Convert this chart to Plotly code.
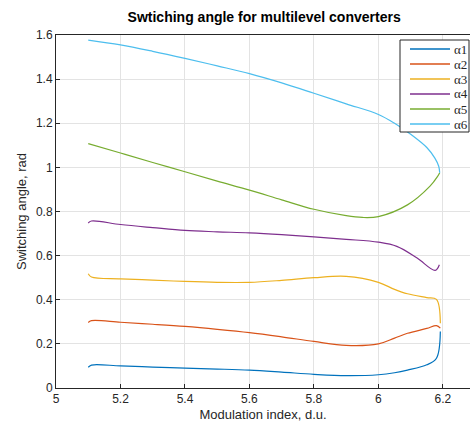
import plotly.graph_objects as go

x1 = [5.10, 5.11, 5.2, 5.3, 5.4, 5.5, 5.6, 5.7, 5.8, 5.9, 6.0, 6.05, 6.09, 6.15, 6.18, 6.192]
a1 = [0.094, 0.104, 0.100, 0.095, 0.090, 0.086, 0.081, 0.072, 0.062, 0.056, 0.060, 0.069, 0.081, 0.105, 0.135, 0.256]
a2 = [0.297, 0.305, 0.298, 0.289, 0.279, 0.266, 0.251, 0.232, 0.211, 0.193, 0.200, 0.226, 0.248, 0.270, 0.283, 0.271]
a3 = [0.518, 0.503, 0.495, 0.489, 0.483, 0.479, 0.479, 0.488, 0.500, 0.506, 0.479, 0.447, 0.427, 0.410, 0.402, 0.294]
x4 = [5.10, 5.11, 5.2, 5.3, 5.4, 5.5, 5.6, 5.7, 5.8, 5.9, 6.0, 6.057, 6.12, 6.176, 6.189]
a4 = [0.748, 0.757, 0.741, 0.727, 0.714, 0.708, 0.703, 0.695, 0.685, 0.674, 0.661, 0.642, 0.589, 0.533, 0.559]
x5 = [5.10, 5.2, 5.3, 5.4, 5.5, 5.6, 5.7, 5.8, 5.9, 5.95, 6.0, 6.09, 6.16, 6.183, 6.19]
a5 = [1.108, 1.065, 1.022, 0.980, 0.938, 0.897, 0.853, 0.810, 0.781, 0.773, 0.777, 0.830, 0.915, 0.958, 0.976]
x6 = [5.10, 5.2, 5.3, 5.4, 5.5, 5.6, 5.7, 5.8, 5.9, 6.0, 6.05, 6.1, 6.15, 6.175, 6.187, 6.19]
a6 = [1.577, 1.555, 1.526, 1.494, 1.460, 1.425, 1.383, 1.336, 1.288, 1.240, 1.200, 1.150, 1.090, 1.042, 1.005, 0.976]

names = ["α1", "α2", "α3", "α4", "α5", "α6"]
colors = ["#0072BD", "#D95319", "#EDB120", "#7E2F8E", "#77AC30", "#4DBEEE"]
series = [(x1, a1), (x1, a2), (x1, a3), (x4, a4), (x5, a5), (x6, a6)]

W, H = 470, 432
ML, MR, MT, MB = 56, 0, 35, 44
PW, PH = W - ML - MR, H - MT - MB

def px(xp):
    return (xp - ML) / PW

def py(yp):
    return (H - MB - yp) / PH

fig = go.Figure()
for (xs, ys), n, c in zip(series, names, colors):
    fig.add_trace(go.Scatter(x=xs, y=ys, mode="lines", name=n, showlegend=False,
                             line=dict(color=c, width=1.2, shape="spline", smoothing=1.0)))

# legend box drawn as shapes/annotations
shapes = [dict(type="rect", xref="paper", yref="paper",
               x0=px(400), x1=px(469), y0=py(132), y1=py(40),
               line=dict(color="#262626", width=1), fillcolor="white", layer="above")]
annotations = []
for i, (n, c) in enumerate(zip(names, colors)):
    yy = 49 + 15 * i
    shapes.append(dict(type="line", xref="paper", yref="paper",
                       x0=px(410), x1=px(450), y0=py(yy), y1=py(yy),
                       line=dict(color=c, width=1.5), layer="above"))
    annotations.append(dict(xref="paper", yref="paper", x=px(452), y=py(yy),
                            xanchor="left", yanchor="middle", showarrow=False, text=n,
                            font=dict(family="Liberation Serif", size=13, color="#262626")))

axis_common = dict(showgrid=True, gridcolor="#e3e3e3", gridwidth=1, zeroline=False,
                   showline=True, linecolor="#262626", linewidth=1, mirror=True,
                   ticks="inside", ticklen=4, tickcolor="#262626",
                   tickfont=dict(family="Liberation Sans, Arial", size=12, color="#262626"))

fig.update_layout(
    width=W, height=H,
    paper_bgcolor="white", plot_bgcolor="white",
    margin=dict(l=ML, r=MR, t=MT, b=MB),
    title=dict(text="<b>Swtiching angle for multilevel converters</b>", x=0.562, xanchor="center",
               y=0.972, yanchor="top",
               font=dict(family="Liberation Sans, Arial", size=14, color="#000000")),
    xaxis=dict(range=[5, 6.284], tickvals=[5, 5.2, 5.4, 5.6, 5.8, 6, 6.2],
               ticktext=["5", "5.2", "5.4", "5.6", "5.8", "6", "6.2"],
               title=dict(text="Modulation index, d.u.", standoff=4,
                          font=dict(family="Liberation Sans, Arial", size=13, color="#262626")),
               **axis_common),
    yaxis=dict(range=[0, 1.6], tickvals=[0, 0.2, 0.4, 0.6, 0.8, 1, 1.2, 1.4, 1.6],
               ticktext=["0", "0.2", "0.4", "0.6", "0.8", "1", "1.2", "1.4", "1.6"],
               title=dict(text="Switching angle, rad", standoff=6,
                          font=dict(family="Liberation Sans, Arial", size=13, color="#262626")),
               **axis_common),
    shapes=shapes,
    annotations=annotations,
    showlegend=False,
)

fig.write_html("out.html")
